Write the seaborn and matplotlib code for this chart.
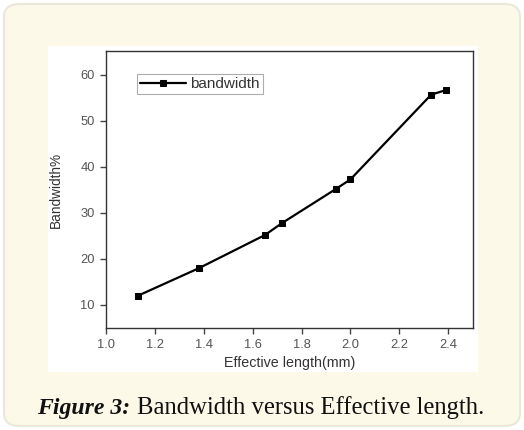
import matplotlib
matplotlib.use("Agg")
import matplotlib.pyplot as plt
from matplotlib.patches import FancyBboxPatch, Rectangle
import seaborn as sns
import pandas as pd

effective_length = [1.13, 1.38, 1.65, 1.72, 1.94, 2.00, 2.33, 2.39]
bandwidth = [12.0, 18.0, 25.2, 27.8, 35.2, 37.3, 55.7, 56.7]
x_ticks = [1.0, 1.2, 1.4, 1.6, 1.8, 2.0, 2.2, 2.4]
y_ticks = [10, 20, 30, 40, 50, 60]

df = pd.DataFrame({"Effective length(mm)": effective_length, "Bandwidth%": bandwidth})

sns.set_style("white")
plt.rcParams['font.family'] = ['Liberation Sans', 'DejaVu Sans']

W, H = 524, 430
fig = plt.figure(figsize=(W / 100, H / 100), dpi=100)
fig.patch.set_facecolor("white")

# outer rounded beige panel
fig.patches.append(FancyBboxPatch((4 / W, 4 / H), 516 / W, 422 / H,
                                  boxstyle="round,pad=0,rounding_size=0.03",
                                  transform=fig.transFigure, facecolor="#fdf9e9",
                                  edgecolor="#ebe7da", linewidth=1.5, zorder=0))
# white image area
fig.patches.append(Rectangle((48 / W, (H - 372) / H), 430 / W, 326 / H,
                             transform=fig.transFigure, facecolor="white",
                             edgecolor="none", zorder=1))

ax = fig.add_axes([106 / W, (H - 328) / H, (472.7 - 106) / W, (328 - 51) / H])
ax.set_zorder(2)
sns.lineplot(data=df, x="Effective length(mm)", y="Bandwidth%", ax=ax,
             color="black", marker="s", markersize=4.6, markeredgecolor="black",
             linewidth=1.6, label="bandwidth")

ax.set_xlim(1.0, 2.5)
ax.set_ylim(5, 65.2)
ax.set_xticks(x_ticks)
ax.set_xticklabels([f"{v:.1f}" for v in x_ticks])
ax.set_yticks(y_ticks)
ax.tick_params(axis="both", which="both", direction="out", length=4, width=1,
               colors="#444444", pad=4,
               bottom=True, left=True, top=False, right=False)
for lab in ax.get_xticklabels() + ax.get_yticklabels():
    lab.set_fontsize(9.3)
    lab.set_color("#555555")
for s in ax.spines.values():
    s.set_color("#333333")
    s.set_linewidth(1.0)
ax.set_xlabel("Effective length(mm)", fontsize=10.3, color="#333333")
ax.set_ylabel("Bandwidth%", fontsize=9.8, color="#333333")
ax.xaxis.set_label_coords(0.5, -(363 - 328) / (328 - 51), transform=ax.transAxes)
ax.yaxis.set_label_coords(-(106 - 56) / (472.7 - 106), 0.5, transform=ax.transAxes)
ax.xaxis.label.set_va("center")
ax.yaxis.label.set_va("center")

leg = ax.legend(loc="upper left", bbox_to_anchor=((137 - 106) / 366.7, (328 - 74) / 277),
                fontsize=11, frameon=True, fancybox=False, handlelength=3.0,
                borderpad=0.2, handletextpad=0.3, borderaxespad=0, markerscale=0.8)
leg.get_frame().set_edgecolor("#999999")
leg.get_frame().set_linewidth(0.8)
for t in leg.get_texts():
    t.set_color("#333333")

# caption
base_y = (H - 414) / H
t1 = fig.text(36.7 / W, base_y, "Figure 3:", fontsize=16, family="Liberation Serif",
              weight="bold", style="italic", color="#111111", va="baseline", ha="left")
t2 = fig.text(137.3 / W, base_y, "Bandwidth versus Effective length.", fontsize=16,
              family="Liberation Serif", color="#111111", va="baseline", ha="left")
fig.canvas.draw()
r = fig.canvas.get_renderer()
for t, target in ((t1, 93.0), (t2, 348.0)):
    w = t.get_window_extent(r).width
    t.set_fontsize(t.get_fontsize() * target / w)

fig.savefig("out.png", dpi=100)
